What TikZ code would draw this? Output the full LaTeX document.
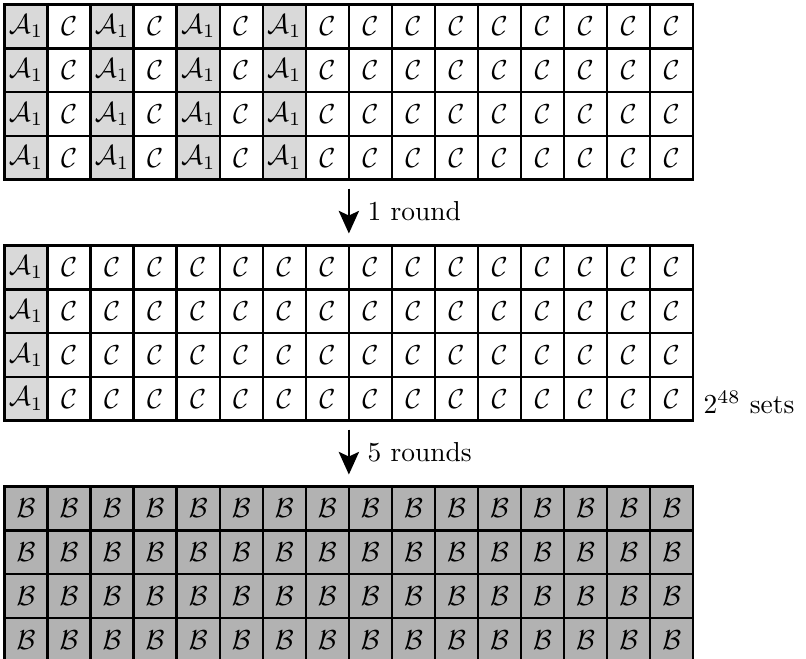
\documentclass[tikz,border=0pt]{standalone}
\usepackage{amsmath}
\usepackage{xcolor}
\usepackage{tikz}
\usetikzlibrary{arrows.meta,positioning}
\definecolor{lightcell}{RGB}{217,217,217}
\definecolor{darkcell}{RGB}{178,178,178}
\newcommand\cellw{0.551cm}
\newcommand\cellh{0.56cm}

\begin{document}
\begin{tikzpicture}[
  cellbase/.style={draw=black, line width=0.9pt, minimum width=\cellw, minimum height=\cellh, inner sep=0pt, outer sep=0pt},
  acell/.style={cellbase, fill=lightcell},
  ccell/.style={cellbase, fill=white},
  bcell/.style={cellbase, fill=darkcell},
  arr/.style={-{Stealth[length=2.9mm,width=2.6mm,inset=0.6mm]}, line width=0.8pt}
]
\useasboundingbox (-0.0576,0.0576) rectangle (10.2592,-8.3648);
% initial state
\foreach \r in {1,...,4}{
  \foreach \c in {1,3,5,7}
    \node[acell] (init-\r-\c) at ({(\c-0.5)*\cellw},{-(\r-0.5)*\cellh}) {$\mathcal{A}_1$};
  \foreach \c in {2,4,6,8,9,10,...,16}
    \node[ccell] (init-\r-\c) at ({(\c-0.5)*\cellw},{-(\r-0.5)*\cellh}) {$\mathcal{C}$};
}
% after 1 round
\foreach \r in {1,...,4}{
  \node[acell] (one-\r-1) at ({0.5*\cellw},{-3.085cm-(\r-0.5)*\cellh}) {$\mathcal{A}_1$};
  \foreach \c in {2,...,16}
    \node[ccell] (one-\r-\c) at ({(\c-0.5)*\cellw},{-3.085cm-(\r-0.5)*\cellh}) {$\mathcal{C}$};
}
% after 5 more rounds
\foreach \r in {1,...,4}{
  \foreach \c in {1,...,16}
    \node[bcell] (six-\r-\c) at ({(\c-0.5)*\cellw},{-6.17cm-(\r-0.5)*\cellh}) {$\mathcal{B}$};
}
\draw[arr] ([yshift=-1.15mm]init-4-8.south east) -- node[right=1.1mm] (lbl1) {1 round} ([yshift=1.54mm]one-1-8.north east);
\draw[arr] ([yshift=-1.15mm]one-4-8.south east) -- node[right=1.1mm] (lbl5) {5 rounds} ([yshift=1.54mm]six-1-8.north east);
\node[anchor=base west] (count) at ([xshift=0.1mm,yshift=0.9mm]one-4-16.south east) {$2^{48}$ sets};
\end{tikzpicture}
\end{document}
